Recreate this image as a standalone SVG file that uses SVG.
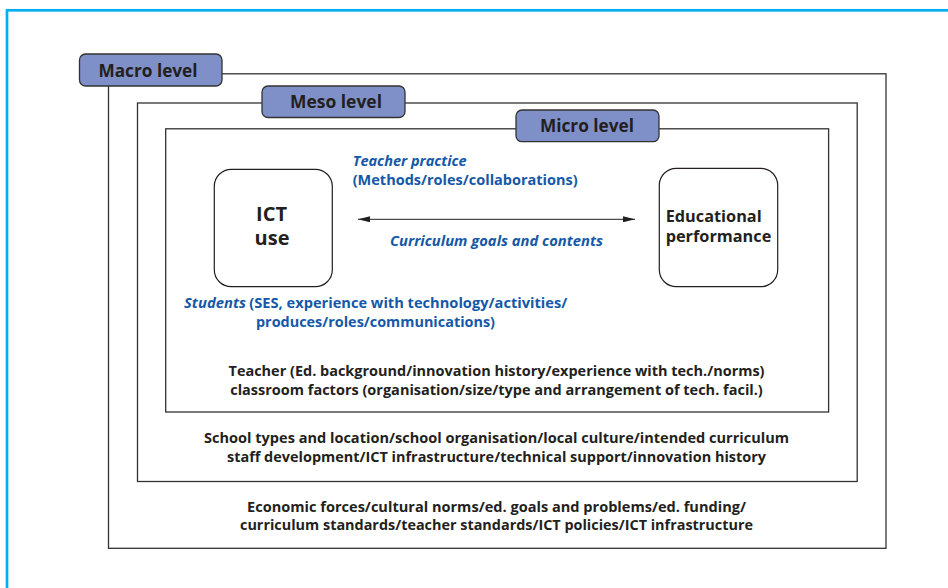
<svg xmlns="http://www.w3.org/2000/svg" width="948" height="588" viewBox="0 0 948 588">
  <style>
    .frame { fill: none; stroke: #333; stroke-width: 1.3; }
    .tab { fill: #7F8FC7; stroke: #333; stroke-width: 1.3; }
    .tabtxt { font-family: "Open Sans", Lato, "Liberation Sans", sans-serif; font-weight: bold; font-size: 18px; fill: #231F20; text-anchor: middle; }
    .node { fill: #fff; stroke: #231F20; stroke-width: 1.2; }
    .nodetxt { font-family: "Open Sans", Lato, "Liberation Sans", sans-serif; font-weight: bold; fill: #231F20; }
    .body { font-family: "Open Sans", Lato, "Liberation Sans", sans-serif; font-weight: bold; font-size: 15px; fill: #231F20; }
    .blue { font-family: "Open Sans", Lato, "Liberation Sans", sans-serif; font-weight: bold; font-size: 15px; fill: #1558A8; }
    .it { font-style: italic; }
  </style>
  <defs>
    <marker id="ah" viewBox="0 0 12 6" refX="12" refY="3" markerWidth="12" markerHeight="6" markerUnits="userSpaceOnUse" orient="auto-start-reverse">
      <path d="M0,0 L12,3 L0,6 Z" fill="#231F20"/>
    </marker>
  </defs>

  <rect x="7" y="10.3" width="1000" height="1000" fill="none" stroke="#00B0F0" stroke-width="2.7"/>

  <g id="macro">
    <rect class="frame" x="108.5" y="73.8" width="777.5" height="474.5" stroke="#555"/>
    <rect class="tab" x="79.5" y="54" width="142.5" height="32" rx="6"/>
    <text class="tabtxt" x="148" y="76.7" textLength="99" lengthAdjust="spacingAndGlyphs">Macro level</text>
    <text class="body" x="496.5" y="511.7" text-anchor="middle" textLength="499" lengthAdjust="spacingAndGlyphs">Economic forces/cultural norms/ed. goals and problems/ed. funding/</text>
    <text class="body" x="496.5" y="530" text-anchor="middle" textLength="513" lengthAdjust="spacingAndGlyphs">curriculum standards/teacher standards/ICT policies/ICT infrastructure</text>
  </g>

  <g id="meso">
    <rect class="frame" x="137.5" y="103" width="719.7" height="378.5"/>
    <rect class="tab" x="262" y="86" width="143" height="31.5" rx="6"/>
    <text class="tabtxt" x="336" y="108.3" textLength="92" lengthAdjust="spacingAndGlyphs">Meso level</text>
    <text class="body" x="496.5" y="443.3" text-anchor="middle" textLength="585" lengthAdjust="spacingAndGlyphs">School types and location/school organisation/local culture/intended curriculum</text>
    <text class="body" x="496.5" y="462.3" text-anchor="middle" textLength="539" lengthAdjust="spacingAndGlyphs">staff development/ICT infrastructure/technical support/innovation history</text>
  </g>

  <g id="micro">
    <rect class="frame" x="165.7" y="128.8" width="662.9" height="283.2"/>
    <rect class="tab" x="516" y="110" width="143" height="31.7" rx="6"/>
    <text class="tabtxt" x="587" y="131.7" textLength="94" lengthAdjust="spacingAndGlyphs">Micro level</text>
    <text class="body" x="496.5" y="376" text-anchor="middle" textLength="536" lengthAdjust="spacingAndGlyphs">Teacher (Ed. background/innovation history/experience with tech./norms)</text>
    <text class="body" x="496.5" y="395" text-anchor="middle" textLength="532.6" lengthAdjust="spacingAndGlyphs">classroom factors (organisation/size/type and arrangement of tech. facil.)</text>
  </g>

  <g id="ict-use">
    <rect class="node" x="214.3" y="169.3" width="118" height="117.4" rx="17"/>
    <text class="nodetxt" font-size="20" text-anchor="middle"><tspan x="271.5" y="221">ICT</tspan><tspan x="272" y="245">use</tspan></text>
  </g>

  <g id="educational-performance">
    <rect class="node" x="659.3" y="168.3" width="118.4" height="118.4" rx="17"/>
    <text class="nodetxt" font-size="16.3"><tspan x="665.7" y="222.3">Educational</tspan><tspan x="665.7" y="241.7">performance</tspan></text>
  </g>

  <g id="connectors">
    <line x1="358" y1="219.3" x2="635" y2="219.3" stroke="#231F20" stroke-width="1" marker-start="url(#ah)" marker-end="url(#ah)"/>
  </g>

  <g id="labels">
    <text class="blue it" x="352.7" y="166" textLength="114" lengthAdjust="spacingAndGlyphs">Teacher practice</text>
    <text class="blue" x="352.7" y="185" textLength="225" lengthAdjust="spacingAndGlyphs">(Methods/roles/collaborations)</text>
    <text class="blue it" x="390" y="246" textLength="213" lengthAdjust="spacingAndGlyphs">Curriculum goals and contents</text>
    <text class="blue it" x="184" y="308.3" textLength="62" lengthAdjust="spacingAndGlyphs">Students</text>
    <text class="blue" x="249.3" y="308.3" textLength="318" lengthAdjust="spacingAndGlyphs">(SES, experience with technology/activities/</text>
    <text class="blue" x="256" y="326.7" textLength="239" lengthAdjust="spacingAndGlyphs">produces/roles/communications)</text>
  </g>
</svg>
